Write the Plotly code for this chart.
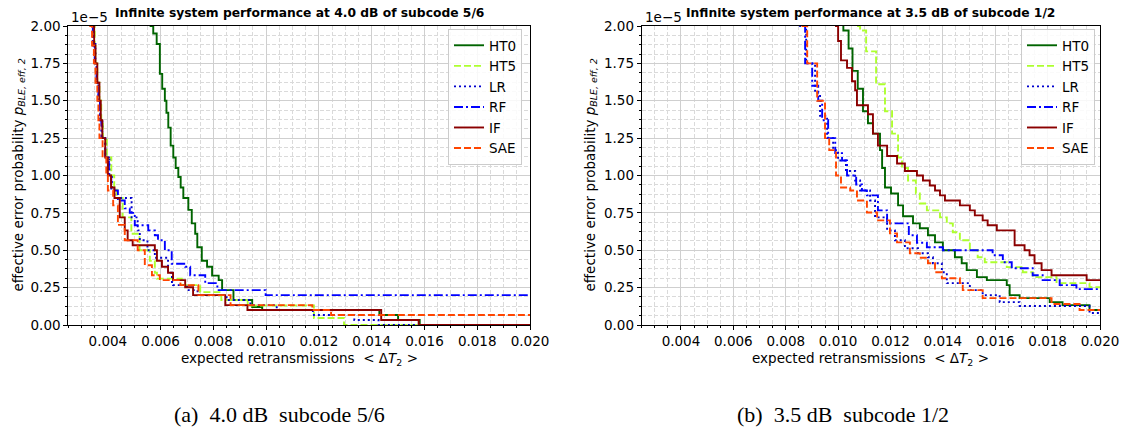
import plotly.graph_objects as go

W, H = 1125, 440

SERIES = ["HT0", "HT5", "LR", "RF", "IF", "SAE"]

# ---------- panel (a): 4.0 dB, subcode 5/6  (y in units of 1e-5) ----------
A_HT0_X = [0.0055, 0.00562, 0.00572, 0.00585, 0.00597, 0.00606, 0.00616, 0.00622, 0.00629, 0.00638,
           0.00648, 0.00657, 0.00667, 0.00676, 0.00686, 0.00705, 0.00718, 0.00731, 0.00739, 0.00756,
           0.00776, 0.00795, 0.0082, 0.00833, 0.00876, 0.00947, 0.00985, 0.01429, 0.0150, 0.01582]
A_HT0_Y = [2.2, 2.0, 1.95, 1.88, 1.68, 1.58, 1.5, 1.42, 1.32, 1.2,
           1.12, 1.05, 0.99, 0.92, 0.85, 0.77, 0.68, 0.61, 0.52, 0.43,
           0.39, 0.33, 0.30, 0.233, 0.167, 0.12, 0.10, 0.067, 0.033, 0.0]

A_HT5_X = [0.0033, 0.00347, 0.0035, 0.00353, 0.0036, 0.00368, 0.00375, 0.00381, 0.00396, 0.00413,
           0.00424, 0.00434, 0.00456, 0.00489, 0.0052, 0.00559, 0.00578, 0.00586, 0.0068, 0.0075,
           0.0083, 0.0093, 0.01181, 0.01295]
A_HT5_Y = [2.2, 2.0, 1.87, 1.75, 1.62, 1.5, 1.37, 1.25, 1.12, 1.0,
           0.92, 0.85, 0.72, 0.61, 0.5, 0.43, 0.35, 0.31, 0.267, 0.22,
           0.167, 0.13, 0.047, 0.0]

A_LR_X = [0.0032, 0.00337, 0.00343, 0.00353, 0.00358, 0.00364, 0.00371, 0.00379, 0.0039, 0.00406,
          0.00415, 0.00425, 0.0049, 0.00513, 0.00521, 0.0055, 0.00578, 0.00628, 0.00643, 0.00647,
          0.0070, 0.0074, 0.0085, 0.0094, 0.0104, 0.01177, 0.01334, 0.01426]
A_LR_Y = [2.2, 2.0, 1.88, 1.75, 1.62, 1.5, 1.37, 1.25, 1.12, 1.0,
          0.92, 0.85, 0.72, 0.633, 0.567, 0.5, 0.45, 0.35, 0.28, 0.267,
          0.233, 0.2, 0.167, 0.133, 0.1, 0.067, 0.033, 0.0]

A_RF_X = [0.0032, 0.00337, 0.00343, 0.0035, 0.00357, 0.00364, 0.0037, 0.00375, 0.0039, 0.00404,
          0.00413, 0.00438, 0.00464, 0.00483, 0.00502, 0.00553, 0.00578, 0.0059, 0.00616, 0.00642,
          0.00693, 0.00712, 0.00769, 0.00815, 0.00998]
A_RF_Y = [2.2, 2.0, 1.87, 1.75, 1.62, 1.5, 1.37, 1.25, 1.12, 1.0,
          0.9, 0.833, 0.78, 0.75, 0.667, 0.633, 0.6, 0.567, 0.5, 0.41,
          0.39, 0.333, 0.28, 0.233, 0.2]

A_IF_X = [0.0033, 0.00343, 0.00348, 0.00353, 0.0036, 0.00368, 0.00373, 0.00379, 0.0039, 0.0040,
          0.00412, 0.00425, 0.00445, 0.00464, 0.00475, 0.00494, 0.00578, 0.00586, 0.00605, 0.00628,
          0.00647, 0.00693, 0.00723, 0.00845, 0.00929, 0.01436, 0.01578]
A_IF_Y = [2.2, 2.0, 1.87, 1.75, 1.62, 1.5, 1.37, 1.25, 1.12, 1.0,
          0.92, 0.85, 0.72, 0.633, 0.567, 0.533, 0.5, 0.43, 0.39, 0.35,
          0.3, 0.253, 0.2, 0.133, 0.1, 0.033, 0.0]

A_SAE_X = [0.0032, 0.00333, 0.0034, 0.00347, 0.00353, 0.0036, 0.00364, 0.00368, 0.0038, 0.00394,
           0.0040, 0.0042, 0.00438, 0.00464, 0.00513, 0.0054, 0.00567, 0.00597, 0.00675, 0.00743,
           0.00865, 0.01175, 0.01246]
A_SAE_Y = [2.2, 2.0, 1.87, 1.75, 1.62, 1.5, 1.37, 1.25, 1.12, 1.0,
           0.9, 0.8, 0.67, 0.567, 0.5, 0.4, 0.333, 0.3, 0.267, 0.2,
           0.133, 0.1, 0.067]

# ---------- panel (b): 3.5 dB, subcode 1/2  (y in units of 1e-5) ----------
B_HT0_X = [0.0100, 0.0102, 0.0104, 0.01055, 0.01075, 0.01095, 0.01114, 0.01133, 0.0116, 0.01168,
           0.01179, 0.01202, 0.01229, 0.01248, 0.01286, 0.01312, 0.01343, 0.0137, 0.0140, 0.01446,
           0.01472, 0.01491, 0.0153, 0.01568, 0.01644, 0.01655, 0.01693, 0.01808, 0.01857, 0.0196]
B_HT0_Y = [2.2, 1.97, 1.85, 1.7, 1.58, 1.43, 1.35, 1.28, 1.17, 1.05,
           0.92, 0.88, 0.80, 0.727, 0.68, 0.647, 0.60, 0.553, 0.50, 0.453,
           0.413, 0.367, 0.32, 0.30, 0.267, 0.20, 0.18, 0.153, 0.133, 0.10]

B_HT5_X = [0.0107, 0.01076, 0.01084, 0.01107, 0.01145, 0.01179, 0.01206, 0.01229, 0.01244, 0.01267,
           0.01297, 0.01312, 0.01339, 0.01389, 0.01415, 0.01438, 0.01465, 0.01503, 0.01533, 0.0156,
           0.01644, 0.01705, 0.01743, 0.01834, 0.0196]
B_HT5_Y = [2.2, 2.0, 1.97, 1.83, 1.61, 1.43, 1.28, 1.12, 1.05, 0.967,
           0.88, 0.813, 0.767, 0.72, 0.68, 0.62, 0.567, 0.5, 0.453, 0.42,
           0.387, 0.353, 0.32, 0.28, 0.253]

B_LR_X = [0.0085, 0.00855, 0.00878, 0.00912, 0.00931, 0.00958, 0.00981, 0.0100, 0.0103, 0.01065,
          0.01084, 0.01122, 0.01141, 0.01187, 0.01217, 0.01255, 0.01305, 0.01343, 0.01362, 0.01396,
          0.01415, 0.01503, 0.01552, 0.01617, 0.01693, 0.0196]
B_LR_Y = [2.2, 2.0, 1.75, 1.55, 1.4, 1.25, 1.17, 1.1, 1.03, 0.967,
          0.9, 0.833, 0.72, 0.633, 0.567, 0.513, 0.48, 0.453, 0.413, 0.353,
          0.28, 0.233, 0.2, 0.153, 0.127, 0.08]

B_RF_X = [0.0085, 0.00855, 0.00874, 0.00901, 0.00924, 0.00939, 0.00962, 0.00989, 0.01015, 0.01034,
          0.01069, 0.01091, 0.0111, 0.01152, 0.01187, 0.0127, 0.01301, 0.01339, 0.0140, 0.0159,
          0.01629, 0.01663, 0.01743, 0.01781, 0.01846, 0.0191]
B_RF_Y = [2.2, 2.0, 1.75, 1.6, 1.5, 1.37, 1.25, 1.15, 1.1, 1.0,
          0.94, 0.9, 0.867, 0.767, 0.68, 0.6, 0.55, 0.52, 0.5, 0.467,
          0.42, 0.38, 0.333, 0.3, 0.267, 0.24]

B_IF_X = [0.0098, 0.00992, 0.0100, 0.01011, 0.01034, 0.01053, 0.01065, 0.01072, 0.01114, 0.01133,
          0.01152, 0.01187, 0.01225, 0.01255, 0.01301, 0.01324, 0.0135, 0.0137, 0.01389, 0.01408,
          0.01465, 0.01503, 0.01522, 0.01552, 0.01571, 0.01606, 0.01674, 0.01712, 0.01731, 0.0175,
          0.01777, 0.01815, 0.01949]
B_IF_Y = [2.2, 2.0, 1.9, 1.77, 1.72, 1.63, 1.57, 1.47, 1.41, 1.28,
          1.2, 1.13, 1.08, 1.03, 1.0, 0.967, 0.933, 0.9, 0.867, 0.833,
          0.8, 0.767, 0.733, 0.7, 0.667, 0.633, 0.533, 0.5, 0.467, 0.413,
          0.367, 0.333, 0.30]

B_SAE_X = [0.0086, 0.00864, 0.00882, 0.0092, 0.0095, 0.00966, 0.00992, 0.01011, 0.01046, 0.01072,
           0.0111, 0.01149, 0.01198, 0.01225, 0.01274, 0.01312, 0.01343, 0.0137, 0.01396, 0.01465,
           0.01476, 0.01552, 0.01815, 0.01922]
B_SAE_Y = [2.2, 2.0, 1.75, 1.5, 1.25, 1.17, 1.0, 0.92, 0.9, 0.833,
           0.753, 0.7, 0.613, 0.553, 0.48, 0.45, 0.413, 0.353, 0.313, 0.28,
           0.233, 0.18, 0.14, 0.10]

X_END = 0.0205  # curves continue to the right edge

PANEL_A = {"HT0": (A_HT0_X, A_HT0_Y), "HT5": (A_HT5_X, A_HT5_Y), "LR": (A_LR_X, A_LR_Y),
           "RF": (A_RF_X, A_RF_Y), "IF": (A_IF_X, A_IF_Y), "SAE": (A_SAE_X, A_SAE_Y)}
PANEL_B = {"HT0": (B_HT0_X, B_HT0_Y), "HT5": (B_HT5_X, B_HT5_Y), "LR": (B_LR_X, B_LR_Y),
           "RF": (B_RF_X, B_RF_Y), "IF": (B_IF_X, B_IF_Y), "SAE": (B_SAE_X, B_SAE_Y)}

TITLES = ["Infinite system performance at 4.0 dB of subcode 5/6",
          "Infinite system performance at 3.5 dB of subcode 1/2"]
CAPTIONS = ["(a)  4.0 dB  subcode 5/6", "(b)  3.5 dB  subcode 1/2"]

STYLE = {
    "HT0": dict(color="#006400", dash="solid"),
    "HT5": dict(color="#ADFF2F", dash="7px,3px"),
    "LR": dict(color="#0000CD", dash="2px,3px"),
    "RF": dict(color="#0000FF", dash="9px,3px,2px,3px"),
    "IF": dict(color="#8B0000", dash="solid"),
    "SAE": dict(color="#FF4500", dash="7px,3px"),
}

FONT = "DejaVu Sans"
FS = 13.5

# pixel geometry
PA = (68.3, 530.0)
PB = (641.7, 1100.0)
TOP, BOT = 26.0, 325.0

fig = go.Figure()

for panel, (xa, ya, leg) in zip([PANEL_A, PANEL_B], [("x", "y", "legend"), ("x2", "y2", "legend2")]):
    for name in SERIES:
        xs, ys = panel[name]
        st = STYLE[name]
        fig.add_trace(go.Scatter(
            x=list(xs) + [X_END], y=list(ys) + [ys[-1]],
            mode="lines", name=name, line_shape="hv",
            line=dict(color=st["color"], dash=st["dash"], width=1.9),
            xaxis=xa, yaxis=ya, legend=leg, showlegend=True,
        ))

MINOR_GRID = dict(showgrid=True, gridcolor="#dadada", griddash="4px,2px", gridwidth=0.8)

def xaxis_cfg(dom, anchor):
    return dict(
        domain=dom, anchor=anchor, range=[0.0025, 0.0200001], automargin=False,
        tick0=0, dtick=0.002, tickformat=".3f",
        ticks="outside", ticklen=4, tickwidth=1, tickcolor="black",
        showline=True, linecolor="black", linewidth=1, mirror=True,
        showgrid=True, gridcolor="#cfcfcf", gridwidth=1, zeroline=False,
        tickfont=dict(family=FONT, size=FS, color="black"),
        minor=dict(tick0=0, dtick=0.0005, ticks="outside", ticklen=2, tickcolor="black", **MINOR_GRID),
    )

def yaxis_cfg(anchor):
    return dict(
        domain=[(H - BOT) / H, (H - TOP) / H], anchor=anchor, range=[0, 2.0000001],
        automargin=False,
        tick0=0, dtick=0.25, tickformat=".2f",
        ticks="outside", ticklen=4, tickwidth=1, tickcolor="black",
        showline=True, linecolor="black", linewidth=1, mirror=True,
        showgrid=True, gridcolor="#cfcfcf", gridwidth=1, zeroline=False,
        tickfont=dict(family=FONT, size=FS, color="black"),
        minor=dict(tick0=0, dtick=0.0625, ticks="outside", ticklen=2, tickcolor="black", **MINOR_GRID),
    )

def legend_cfg(right_px):
    return dict(
        x=right_px / W, xanchor="right", y=1 - 29 / H, yanchor="top",
        bgcolor="rgba(255,255,255,0.85)", bordercolor="#cccccc", borderwidth=1,
        font=dict(family=FONT, size=FS, color="black"), itemwidth=30,
        tracegroupgap=0,
    )

ann = []
for (l, r), title, cap, cap_cx, ylab_x in [(PA, TITLES[0], CAPTIONS[0], 279, 18),
                                           (PB, TITLES[1], CAPTIONS[1], 843, 590)]:
    cx = (l + r) / 2
    ann.append(dict(text="<b>" + title + "</b>", x=cx / W, y=1 - 13 / H, xref="paper", yref="paper",
                    xanchor="center", yanchor="middle", showarrow=False,
                    font=dict(family=FONT, size=12.3, color="black")))
    ann.append(dict(text="1e\u22125", x=(l + 1) / W, y=1 - 17 / H, xref="paper", yref="paper",
                    xanchor="left", yanchor="middle", showarrow=False,
                    font=dict(family=FONT, size=FS, color="black")))
    ann.append(dict(text="expected retransmissions  &lt; \u0394<i>T</i><sub>2</sub> &gt;",
                    x=cx / W, y=1 - 359 / H, xref="paper", yref="paper",
                    xanchor="center", yanchor="middle", showarrow=False,
                    font=dict(family=FONT, size=FS, color="black")))
    ann.append(dict(text="effective error probability <i>p</i><sub><i>BLE, eff, 2</i></sub>",
                    x=ylab_x / W, y=1 - ((TOP + BOT) / 2) / H, xref="paper", yref="paper",
                    xanchor="center", yanchor="middle", textangle=-90, showarrow=False,
                    font=dict(family=FONT, size=FS, color="black")))
    ann.append(dict(text=cap, x=cap_cx / W, y=1 - 414 / H, xref="paper", yref="paper",
                    xanchor="center", yanchor="middle", showarrow=False,
                    font=dict(family="Liberation Serif", size=22, color="black")))

fig.update_layout(
    width=W, height=H, margin=dict(l=0, r=0, t=0, b=0, autoexpand=False),
    paper_bgcolor="white", plot_bgcolor="white",
    font=dict(family=FONT, size=FS, color="black"),
    xaxis=xaxis_cfg([PA[0] / W, PA[1] / W], "y"),
    yaxis=yaxis_cfg("x"),
    xaxis2=xaxis_cfg([PB[0] / W, PB[1] / W], "y2"),
    yaxis2=yaxis_cfg("x2"),
    legend=legend_cfg(522),
    legend2=legend_cfg(1095),
    annotations=ann,
)

fig.write_html("out.html")
